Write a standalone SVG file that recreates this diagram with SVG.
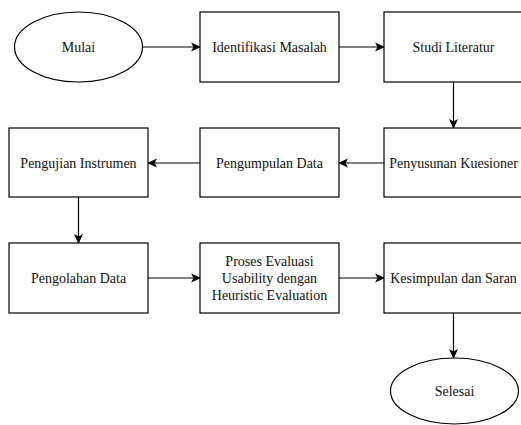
<svg xmlns="http://www.w3.org/2000/svg" width="521" height="425" viewBox="0 0 521 425">
<defs>
<style>
.box{fill:#fff;stroke:#000;stroke-width:1.2}
.lbl{font-family:"Liberation Serif","Times New Roman",serif;font-size:14px;fill:#111;text-anchor:middle}
.edge{fill:none;stroke:#000;stroke-width:1.2}
</style>
<marker id="arr" viewBox="0 0 10 10" refX="9" refY="5" markerWidth="10" markerHeight="10" markerUnits="userSpaceOnUse" orient="auto">
<path d="M0,0.5 L10,5 L0,9.5 L2.5,5 Z" fill="#000"/>
</marker>
</defs>
<rect width="521" height="425" fill="#fff"/>
<g id="connectors">
<line class="edge" x1="142.5" y1="47" x2="200" y2="47" marker-end="url(#arr)"/>
<line class="edge" x1="339" y1="47" x2="384" y2="47" marker-end="url(#arr)"/>
<line class="edge" x1="453.5" y1="82" x2="453.5" y2="128" marker-end="url(#arr)"/>
<line class="edge" x1="384" y1="163" x2="339" y2="163" marker-end="url(#arr)"/>
<line class="edge" x1="200" y1="163" x2="148" y2="163" marker-end="url(#arr)"/>
<line class="edge" x1="78.5" y1="197" x2="78.5" y2="243" marker-end="url(#arr)"/>
<line class="edge" x1="148" y1="278" x2="200" y2="278" marker-end="url(#arr)"/>
<line class="edge" x1="339" y1="278" x2="384" y2="278" marker-end="url(#arr)"/>
<line class="edge" x1="453.5" y1="313" x2="453.5" y2="358" marker-end="url(#arr)"/>
</g>
<g id="mulai">
<ellipse class="box" cx="78.5" cy="47" rx="64" ry="35"/>
<text class="lbl" x="78.5" y="52">Mulai</text>
</g>
<g id="identifikasi">
<rect class="box" x="200" y="12" width="139" height="70"/>
<text class="lbl" x="269.5" y="52">Identifikasi Masalah</text>
</g>
<g id="studi">
<rect class="box" x="384" y="12" width="139" height="70"/>
<text class="lbl" x="453.5" y="52">Studi Literatur</text>
</g>
<g id="penyusunan">
<rect class="box" x="384" y="128" width="139" height="69"/>
<text class="lbl" x="453.5" y="168">Penyusunan Kuesioner</text>
</g>
<g id="pengumpulan">
<rect class="box" x="200" y="128" width="139" height="69"/>
<text class="lbl" x="269.5" y="168">Pengumpulan Data</text>
</g>
<g id="pengujian">
<rect class="box" x="9" y="128" width="139" height="69"/>
<text class="lbl" x="78.5" y="168">Pengujian Instrumen</text>
</g>
<g id="pengolahan">
<rect class="box" x="9" y="243" width="139" height="70"/>
<text class="lbl" x="78.5" y="283">Pengolahan Data</text>
</g>
<g id="proses">
<rect class="box" x="200" y="243" width="139" height="70"/>
<text class="lbl" x="269.5" y="266">Proses Evaluasi</text>
<text class="lbl" x="269.5" y="283">Usability dengan</text>
<text class="lbl" x="269.5" y="300">Heuristic Evaluation</text>
</g>
<g id="kesimpulan">
<rect class="box" x="384" y="243" width="139" height="70"/>
<text class="lbl" x="453.5" y="283">Kesimpulan dan Saran</text>
</g>
<g id="selesai">
<ellipse class="box" cx="454.5" cy="391" rx="64" ry="33"/>
<text class="lbl" x="454.5" y="396">Selesai</text>
</g>
</svg>
